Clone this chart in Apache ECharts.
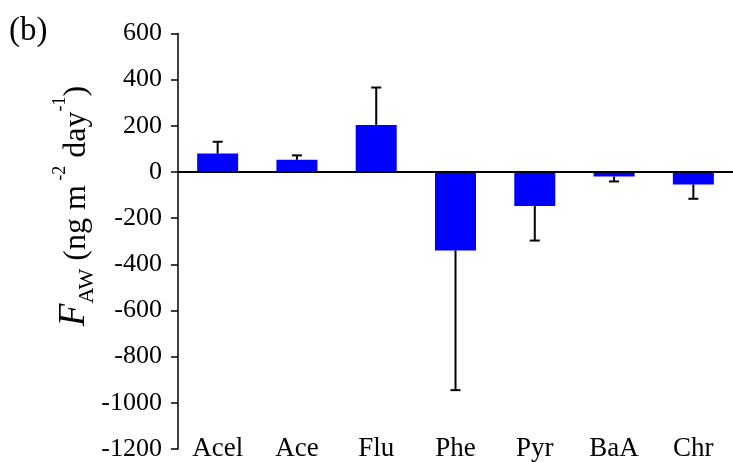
<!DOCTYPE html>
<html>
<head>
<meta charset="utf-8">
<script src="https://cdn.jsdelivr.net/npm/echarts@6/dist/echarts.min.js"></script>
<style>html,body{margin:0;padding:0;background:#fff;}#c{width:733px;height:462px;}</style>
</head>
<body>
<div id="c"></div>
<script>
const categories = ['Acel', 'Ace', 'Flu', 'Phe', 'Pyr', 'BaA', 'Chr'];
const fluxValues = [80, 53, 204, -340, -147, -20, -54];
const errorEnds = [131, 72, 366, -945, -297, -41, -116];
const yTicks = [-1200, -1000, -800, -600, -400, -200, 0, 200, 400, 600];

const FONT = '"Liberation Serif", "Times New Roman", serif';
const chart = echarts.init(document.getElementById('c'), null, {renderer: 'canvas'});

const errData = categories.map((c, i) => [i, fluxValues[i], errorEnds[i]]);

chart.setOption({
  animation: false,
  backgroundColor: '#fff',
  grid: {left: 178, right: -11, top: 33.5, bottom: 11, containLabel: false},
  xAxis: {
    type: 'category',
    data: categories,
    axisLine: {show: false, onZero: false},
    axisTick: {show: false},
    axisLabel: {fontFamily: FONT, fontSize: 27, color: '#000', margin: -14, interval: 0}
  },
  yAxis: {
    type: 'value',
    min: yTicks[0],
    max: yTicks[yTicks.length - 1],
    interval: 200,
    splitLine: {show: false},
    axisLine: {show: true, lineStyle: {color: '#000', width: 1.5}},
    axisTick: {show: true, inside: false, length: 7, lineStyle: {color: '#000', width: 1.5}},
    axisLabel: {fontFamily: FONT, fontSize: 26, color: '#000', margin: 16, formatter: function (v) { return String(v); }}
  },
  series: [
    {
      type: 'bar',
      data: fluxValues,
      barWidth: 41,
      itemStyle: {color: '#0000FF'},
      z: 2,
      markLine: {
        silent: true,
        symbol: 'none',
        label: {show: false},
        lineStyle: {color: '#000', width: 2, type: 'solid'},
        data: [{yAxis: 0}]
      }
    },
    {
      type: 'custom',
      data: errData,
      z: 3,
      renderItem: function (params, api) {
        const x = api.value(0);
        const p0 = api.coord([x, api.value(1)]);
        const p1 = api.coord([x, api.value(2)]);
        const half = 5;
        return {
          type: 'group',
          children: [
            {type: 'line', shape: {x1: p0[0], y1: p0[1], x2: p1[0], y2: p1[1]}, style: {stroke: '#000', lineWidth: 2}},
            {type: 'line', shape: {x1: p1[0] - half, y1: p1[1], x2: p1[0] + half, y2: p1[1]}, style: {stroke: '#000', lineWidth: 2}}
          ]
        };
      }
    }
  ],
  graphic: [
    {
      type: 'text', left: 9, top: 15,
      style: {text: '(b)', font: '33px ' + FONT, fill: '#000'}
    },
    {
      type: 'text',
      x: 72, y: 206,
      rotation: Math.PI / 2,
      style: {
        text: '{f|F}{sub|AW}{n| (ng m}{sup| -2}{n| day}{sup|-1}{n|)}',
        align: 'center',
        verticalAlign: 'middle',
        fill: '#000',
        rich: {
          f: {fontFamily: FONT, fontSize: 37, fontStyle: 'italic', lineHeight: 42, verticalAlign: 'bottom'},
          sub: {fontFamily: FONT, fontSize: 22, lineHeight: 42, verticalAlign: 'bottom', padding: [0, 0, -5, 0]},
          n: {fontFamily: FONT, fontSize: 32, lineHeight: 42, verticalAlign: 'bottom'},
          sup: {fontFamily: FONT, fontSize: 18, lineHeight: 42, verticalAlign: 'top'}
        }
      }
    }
  ]
});
</script>
</body>
</html>
